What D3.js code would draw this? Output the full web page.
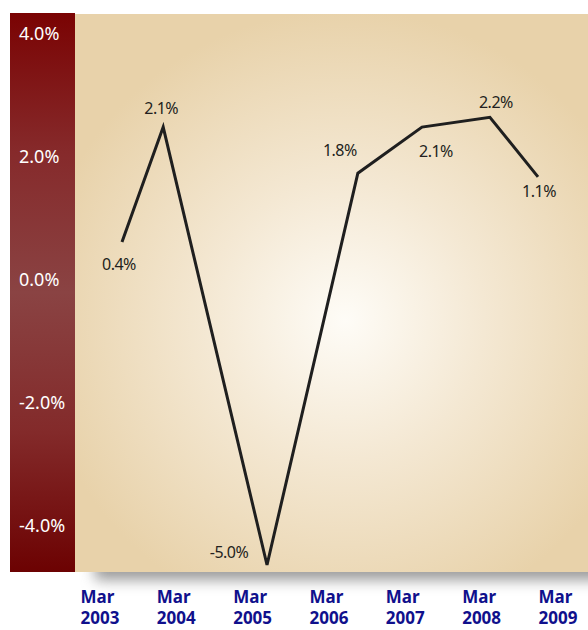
<!DOCTYPE html>
<html>
<head>
<meta charset="utf-8">
<script src="https://cdn.jsdelivr.net/npm/d3@7"></script>
<style>
  body { margin: 0; background: #fff; }
</style>
</head>
<body>
<div id="figure"></div>
<script>
// tick labels along the bottom (year of each "Mar" label)
var years = [2003, 2004, 2005, 2006, 2007, 2008, 2009];
var yTicks = [-4, -2, 0, 2, 4];

// the line (x in years on the bottom axis, y in %)
var pointYears = [2003.55, 2004.09, 2005.45, 2006.64, 2007.48, 2008.37, 2009.0];
var pointValues = [0.6, 2.47, -4.65, 1.72, 2.47, 2.63, 1.66];
var pointLabels = ["0.4%", "2.1%", "-5.0%", "1.8%", "2.1%", "2.2%", "1.1%"];
var labelSide = ["below", "above", "left", "aboveLeft", "belowRight", "aboveRight", "belowNear"];

var width = 588, height = 630;

const svg = d3.select("#figure")
  .append("svg")
  .attr("width", width)
  .attr("height", height)
  .style("display", "block");

const defs = svg.append("defs");

// left band gradient
const band = defs.append("linearGradient")
  .attr("id", "band").attr("x1", 0).attr("y1", 0).attr("x2", 0).attr("y2", 1);
band.append("stop").attr("offset", "0%").attr("stop-color", "#7a0303");
band.append("stop").attr("offset", "25%").attr("stop-color", "#862a2b");
band.append("stop").attr("offset", "50%").attr("stop-color", "#8a4343");
band.append("stop").attr("offset", "75%").attr("stop-color", "#832a2a");
band.append("stop").attr("offset", "100%").attr("stop-color", "#6c0202");

// beige panel gradient
const bg = defs.append("radialGradient")
  .attr("id", "panel").attr("gradientUnits", "userSpaceOnUse")
  .attr("cx", 345).attr("cy", 320).attr("r", 310);
bg.append("stop").attr("offset", "0%").attr("stop-color", "#fefcf7");
bg.append("stop").attr("offset", "45%").attr("stop-color", "#f4e8d3");
bg.append("stop").attr("offset", "100%").attr("stop-color", "#e8d2aa");

defs.append("filter").attr("id", "blur")
  .attr("x", "-20%").attr("y", "-100%").attr("width", "140%").attr("height", "300%")
  .append("feGaussianBlur").attr("stdDeviation", 7);

// scales
const x = d3.scaleLinear().domain([2003, 2009]).range([80, 538]);
const y = d3.scaleLinear().domain([-4, 4]).range([525, 33]);

// shadow under the panel
svg.append("rect")
  .attr("x", 95).attr("y", 558).attr("width", 520).attr("height", 22)
  .attr("fill", "#9a9a9a")
  .attr("filter", "url(#blur)");

// panel + band
svg.append("rect")
  .attr("x", 75).attr("y", 14).attr("width", width - 75).attr("height", 558)
  .attr("fill", "url(#panel)");
svg.append("rect")
  .attr("x", 10).attr("y", 13).attr("width", 65).attr("height", 559)
  .attr("fill", "url(#band)");

// Y axis (white labels on the band)
const yAxis = d3.axisLeft(y)
  .tickValues(yTicks)
  .tickFormat(d => (d < 0 ? "-" : "") + Math.abs(d).toFixed(1) + "%")
  .tickSize(0);
const gy = svg.append("g").attr("transform", "translate(19,0)").call(yAxis);
gy.select(".domain").remove();
gy.selectAll("text")
  .attr("x", 0)
  .attr("dy", "0.35em")
  .attr("text-anchor", "start")
  .attr("fill", "#ffffff")
  .style("font-family", "'Noto Sans', sans-serif")
  .style("font-size", "18px");

// X axis (two line labels)
const xAxis = d3.axisBottom(x).tickValues(years).tickSize(0).tickFormat("");
const gx = svg.append("g").attr("transform", "translate(0,583)").call(xAxis);
gx.select(".domain").remove();
gx.selectAll(".tick").each(function(d) {
  const t = d3.select(this).append("text")
    .attr("text-anchor", "start")
    .attr("fill", "#10108c")
    .style("font-family", "'Noto Sans', sans-serif")
    .style("font-weight", "bold")
    .style("font-size", "17px");
  t.append("tspan").attr("x", 0).attr("y", 20).text("Mar");
  t.append("tspan").attr("x", 0).attr("y", 41).text(d);
});

// the line
const data = pointYears.map((yr, i) => ({yr: yr, v: pointValues[i], label: pointLabels[i], side: labelSide[i]}));

svg.append("path")
  .datum(data)
  .attr("fill", "none")
  .attr("stroke", "#1f1f1f")
  .attr("stroke-width", 3)
  .attr("stroke-linejoin", "miter")
  .attr("d", d3.line().x(d => x(d.yr)).y(d => y(d.v)));

// value labels, placed around their point
const offsets = {
  below: [-3, 22],
  belowNear: [1, 14],
  above: [-2, -19],
  aboveRight: [6, -15],
  left: [-38, -13],
  aboveLeft: [-18, -23],
  belowRight: [14, 24]
};
svg.selectAll(".vlabel")
  .data(data)
  .join("text")
  .attr("class", "vlabel")
  .attr("x", d => x(d.yr) + offsets[d.side][0])
  .attr("y", d => y(d.v) + offsets[d.side][1])
  .attr("dy", "0.35em")
  .attr("text-anchor", "middle")
  .attr("fill", "#231f20")
  .style("font-family", "'Noto Sans', sans-serif")
  .style("font-size", "16px")
  .style("letter-spacing", "-0.5px")
  .text(d => d.label);
</script>
</body>
</html>
